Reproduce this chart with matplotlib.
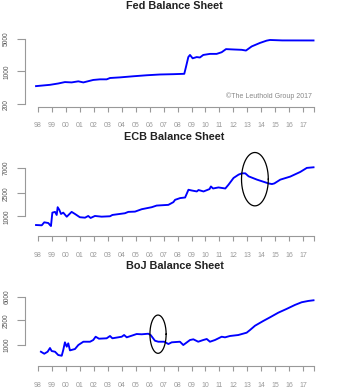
import numpy as np
import matplotlib
matplotlib.use("Agg")
import matplotlib.pyplot as plt
from matplotlib.ticker import NullLocator

plt.rcParams['font.family'] = ['Liberation Sans', 'DejaVu Sans']

# values (year fraction, level on log axis)
fed_year = [1997.86, 1998.86, 1999.45, 1999.93, 2000.41, 2000.89, 2001.25, 2001.96, 2002.44,
            2002.92, 2003.16, 2003.87, 2004.83, 2005.79, 2006.74, 2007.7, 2008.48, 2008.6,
            2008.77, 2008.89, 2009.08, 2009.37, 2009.6, 2009.84, 2010.32, 2010.8, 2011.16,
            2011.47, 2011.99, 2012.59, 2012.9, 2013.31, 2013.9, 2014.38, 2014.62, 2015.5, 2017.74]
fed_value = [488, 520, 555, 595, 585, 617, 585, 660, 680, 680, 726, 748, 790, 830, 862, 875,
             891, 1240, 2020, 2240, 1900, 2020, 1980, 2240, 2360, 2360, 2560, 2980, 2930, 2880,
             2780, 3400, 4030, 4510, 4660, 4560, 4550]

ecb_year = [1997.86, 1998.27, 1998.45, 1998.74, 1998.86, 1998.93, 1999.03, 1999.22, 1999.34,
            1999.41, 1999.53, 1999.65, 1999.81, 2000.06, 2000.41, 2000.65, 2001.0, 2001.37,
            2001.6, 2001.77, 2002.08, 2002.56, 2003.16, 2003.33, 2004.23, 2004.47, 2004.95,
            2005.43, 2006.15, 2006.5, 2007.34, 2007.7, 2007.82, 2008.18, 2008.54, 2008.78,
            2009.0, 2009.38, 2009.5, 2009.86, 2010.29, 2010.39, 2010.54, 2010.93, 2011.42,
            2011.65, 2012.01, 2012.37, 2012.61, 2012.85, 2013.09, 2013.69, 2014.52, 2014.76,
            2014.93, 2015.36, 2016.07, 2016.79, 2017.26, 2017.74]
ecb_value = [711, 703, 792, 770, 711, 683, 1165, 1200, 1062, 1447, 1300, 1105, 1165, 990, 1200,
             1105, 970, 953, 1020, 942, 1020, 992, 1008, 1062, 1137, 1200, 1213, 1335, 1447,
             1544, 1588, 1770, 1940, 2080, 2130, 2900, 2820, 2710, 2870, 2710, 2980, 3310,
             3050, 3180, 3050, 3550, 4640, 5300, 5580, 5580, 4950, 4340, 3730, 3640, 3730,
             4340, 4900, 5900, 6930, 7100]

boj_year = [1998.21, 1998.45, 1998.69, 1998.86, 1998.98, 1999.22, 1999.45, 1999.7, 1999.81,
            1999.93, 2000.06, 2000.17, 2000.29, 2000.65, 2000.89, 2001.25, 2001.73, 2001.96,
            2002.13, 2002.37, 2002.92, 2003.16, 2003.33, 2004.0, 2004.17, 2004.36, 2004.71,
            2005.07, 2005.43, 2005.9, 2006.07, 2006.38, 2006.62, 2007.05, 2007.34, 2007.58,
            2008.17, 2008.41, 2008.89, 2009.13, 2009.48, 2009.84, 2010.09, 2010.32, 2010.68,
            2011.16, 2011.4, 2011.75, 2012.35, 2012.95, 2013.19, 2013.55, 2014.14, 2014.62,
            2015.22, 2015.81, 2016.41, 2016.89, 2017.36, 2017.74]
boj_value = [780, 724, 780, 895, 800, 780, 690, 672, 830, 1105, 940, 1065, 820, 862, 1000,
             1130, 1130, 1204, 1360, 1264, 1283, 1397, 1283, 1360, 1449, 1330, 1412, 1504,
             1488, 1520, 1449, 1173, 1130, 1130, 1038, 1105, 1130, 1000, 1204, 1236, 1130,
             1204, 1250, 1130, 1204, 1360, 1330, 1397, 1449, 1580, 1745, 2047, 2440, 2790,
             3320, 3810, 4420, 4880, 5120, 5250]

year_ticks = list(range(1998, 2018)) + [2017.74]
year_labels = ['98', '99', '00', '01', '02', '03', '04', '05', '06', '07', '08', '09',
               '10', '11', '12', '13', '14', '15', '16', '17', '']

fed_ticks = [200, 1000, 5000]
ecb_ticks = [1000, 2500, 7000]
boj_ticks = [1000, 2500, 6000]

# circled regions: (center year, center level, half width in years, half height in decades)
ecb_ring = (2013.54, 4420, 0.96, 0.462)
boj_ring = (2006.6, 1494, 0.58, 0.308)

W, H = 350, 389
fig = plt.figure(figsize=(W / 100, H / 100), dpi=100)
grey = '#999999'


def r_range(lo, hi):
    # R adds 4% on each side of the axis range
    ext = 0.04 * np.log10(hi / lo)
    return lo / 10 ** ext, hi * 10 ** ext


def panel(top_px, bottom_px, title, title_y, years, values, ticks, ylim, ring=None):
    ax = fig.add_axes([25 / W, 1 - bottom_px / H, 299 / W, (bottom_px - top_px) / H])
    ax.plot(years, values, color='#0000FF', lw=1.35, solid_joinstyle='round')
    if ring is not None:
        cx, cy, a, b = ring
        t = np.linspace(0, 2 * np.pi, 200)
        ax.plot(cx + a * np.cos(t), 10 ** (np.log10(cy) + b * np.sin(t)),
                color='black', lw=0.9, clip_on=False)
    ax.set_yscale('log')
    ax.set_ylim(*r_range(*ylim))
    ax.set_xlim(1997.07, 2018.49)
    ax.set_yticks(ticks)
    ax.set_yticklabels([str(t) for t in ticks])
    ax.yaxis.set_minor_locator(NullLocator())
    ax.set_xticks(year_ticks)
    ax.set_xticklabels(year_labels)
    for s in ['top', 'right']:
        ax.spines[s].set_visible(False)
    ax.spines['left'].set_bounds(min(ticks), max(ticks))
    ax.spines['bottom'].set_bounds(year_ticks[0], year_ticks[-1])
    for s in ['left', 'bottom']:
        ax.spines[s].set_color(grey)
        ax.spines[s].set_linewidth(0.8)
    ax.tick_params(axis='x', direction='out', length=3.3, width=0.8, color=grey,
                   labelsize=5, labelcolor=grey, pad=7.8)
    ax.tick_params(axis='y', direction='out', length=5.5, width=0.8, color=grey,
                   labelsize=4.8, labelcolor='#555555', pad=5.2, labelrotation=90)
    for lab in ax.get_yticklabels():
        lab.set_va('center')
    ax.patch.set_visible(False)
    fig.text(174.5 / W, 1 - title_y / H, title, ha='center', va='center',
             fontsize=7.8, fontweight='bold', color='#222222')
    return ax


panel(35.9, 107.0, 'Fed Balance Sheet', 6, fed_year, fed_value, fed_ticks, (200, 5000))
fig.text(312 / W, 1 - 96 / H, '\u00a9The Leuthold Group 2017', ha='right', va='center',
         fontsize=5, color='#888888')
panel(165.0, 236.5, 'ECB Balance Sheet', 136.7, ecb_year, ecb_value, ecb_ticks, (500, 7000), ecb_ring)
panel(294.0, 366.4, 'BoJ Balance Sheet', 265.7, boj_year, boj_value, boj_ticks, (500, 6000), boj_ring)

fig.savefig('out.png', dpi=100)
